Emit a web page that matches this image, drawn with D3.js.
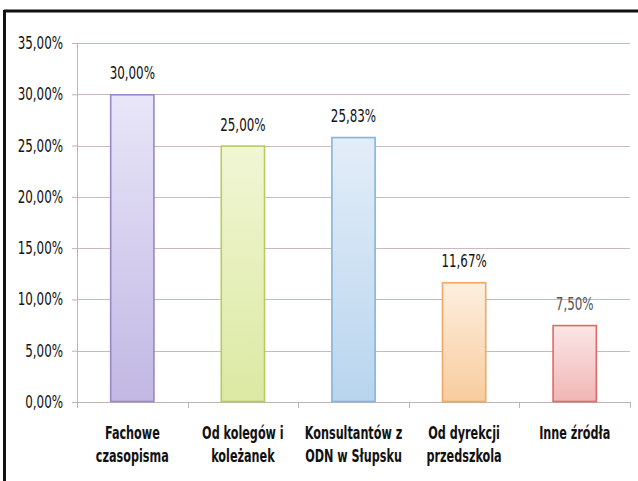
<!DOCTYPE html>
<html>
<head>
  <meta charset="utf-8">
  <title>Źródła informacji</title>
  <script src="https://d3js.org/d3.v7.min.js"></script>
  <style>
    body { margin: 0; background: #fff; }
    svg text { font-family: "DejaVu Sans", sans-serif; }
  </style>
</head>
<body>
<svg id="chart"></svg>
<script>
  // data
  var categories = [["Fachowe", "czasopisma"], ["Od kolegów i", "koleżanek"], ["Konsultantów z", "ODN w Słupsku"], ["Od dyrekcji", "przedszkola"], ["Inne źródła"]]
  var values = [30.00, 25.00, 25.83, 11.67, 7.50]
  var yTicks = [0, 5, 10, 15, 20, 25, 30, 35]
  var strokeColors = ["#9a86c8", "#b6cb62", "#86b6d8", "#efa865", "#dd6a6a"]
  var topColors = ["#e8e6f8", "#f1f6d4", "#e3edf8", "#fdefdf", "#fbe6e6"]
  var bottomColors = ["#c2b8e4", "#dbe9a2", "#b8d5ee", "#f8cc9e", "#f1b6b6"]

  var W = 638, H = 481
  var margin = { top: 43, right: 8, bottom: 79, left: 77 }
  var w = W - margin.left - margin.right
  var h = H - margin.top - margin.bottom
  var squeeze = 0.7 // narrow glyphs like the original Calibri-ish font

  var pct = function (d) { return d3.format('.2f')(d).replace('.', ',') + '%' }

  var svg = d3.select('#chart').attr('width', W).attr('height', H)

  // frame (top + left edges of scanned box)
  svg.append('line').attr('x1', 4).attr('x2', W).attr('y1', 11).attr('y2', 11)
    .attr('stroke', '#111').attr('stroke-width', 3)
  svg.append('line').attr('x1', 4.5).attr('x2', 4.5).attr('y1', 10).attr('y2', H)
    .attr('stroke', '#111').attr('stroke-width', 3)

  var defs = svg.append('defs')
  values.forEach(function (v, i) {
    var g = defs.append('linearGradient').attr('id', 'grad' + i)
      .attr('x1', 0).attr('x2', 0).attr('y1', 0).attr('y2', 1)
    g.append('stop').attr('offset', '0%').attr('stop-color', topColors[i])
    g.append('stop').attr('offset', '100%').attr('stop-color', bottomColors[i])
  })

  var g = svg.append('g').attr('transform', 'translate(' + margin.left + ',' + margin.top + ')')

  var x = d3.scaleBand().domain(d3.range(categories.length)).range([0, w]).paddingInner(0.6).paddingOuter(0.3)
  var y = d3.scaleLinear().domain([0, 35]).range([h, 0])

  // gridlines
  g.selectAll('.grid').data(yTicks.slice(1)).enter().append('line')
    .attr('x1', 0).attr('x2', w)
    .attr('y1', function (d) { return Math.round(y(d)) + 0.5 })
    .attr('y2', function (d) { return Math.round(y(d)) + 0.5 })
    .attr('stroke', '#cdb8be').attr('stroke-width', 1)

  // y axis
  var yAxis = d3.axisLeft(y).tickValues(yTicks).tickSize(5).tickPadding(7).tickFormat(pct)
  var ya = g.append('g').call(yAxis)
  ya.attr('font-family', null).attr('font-size', null)
  ya.select('.domain').attr('stroke', '#bfb2b6')
  ya.selectAll('.tick line').attr('stroke', '#bfb2b6')
  ya.selectAll('text')
    .attr('font-size', 17).attr('fill', '#111')
    .attr('x', -14 / squeeze)
    .attr('transform', 'scale(' + squeeze + ',1)')

  // x axis
  var xb = g.append('g').attr('transform', 'translate(0,' + h + ')')
  xb.append('line').attr('x1', 0).attr('x2', w).attr('y1', 0.5).attr('y2', 0.5).attr('stroke', '#bfb2b6')
  xb.selectAll('.xt').data(d3.range(categories.length + 1)).enter().append('line')
    .attr('x1', function (d) { return Math.round(d * w / categories.length) + 0.5 })
    .attr('x2', function (d) { return Math.round(d * w / categories.length) + 0.5 })
    .attr('y1', 0).attr('y2', 6).attr('stroke', '#bfb2b6')

  // bars
  g.selectAll('.bar').data(values).enter().append('rect')
    .attr('x', function (d, i) { return x(i) + 0.5 })
    .attr('y', function (d) { return y(d) + 0.5 })
    .attr('width', x.bandwidth() - 1)
    .attr('height', function (d) { return h - y(d) - 1 })
    .attr('fill', function (d, i) { return 'url(#grad' + i + ')' })
    .attr('stroke', function (d, i) { return strokeColors[i] })
    .attr('stroke-width', 1.6)

  // value labels
  g.selectAll('.val').data(values).enter().append('g')
    .attr('transform', function (d, i) { return 'translate(' + (x(i) + x.bandwidth() / 2) + ',' + (y(d) - 15) + ')' })
    .append('text')
    .attr('transform', 'scale(' + squeeze + ',1)')
    .attr('text-anchor', 'middle')
    .attr('font-size', 17)
    .attr('fill', function (d, i) { return i === 4 ? '#555' : '#111' })
    .text(pct)

  // category labels
  var cl = g.selectAll('.cat').data(categories).enter().append('g')
    .attr('transform', function (d, i) { return 'translate(' + (x(i) + x.bandwidth() / 2) + ',' + (h + 37) + ')' })
    .append('text')
    .attr('transform', 'scale(0.66,1)')
    .attr('text-anchor', 'middle')
    .attr('font-size', 17)
    .attr('font-weight', 'bold')
    .attr('fill', '#111')
  cl.selectAll('tspan').data(function (d) { return d }).enter().append('tspan')
    .attr('x', 0)
    .attr('y', function (d, i) { return i * 23 })
    .text(function (d) { return d })
</script>
</body>
</html>
